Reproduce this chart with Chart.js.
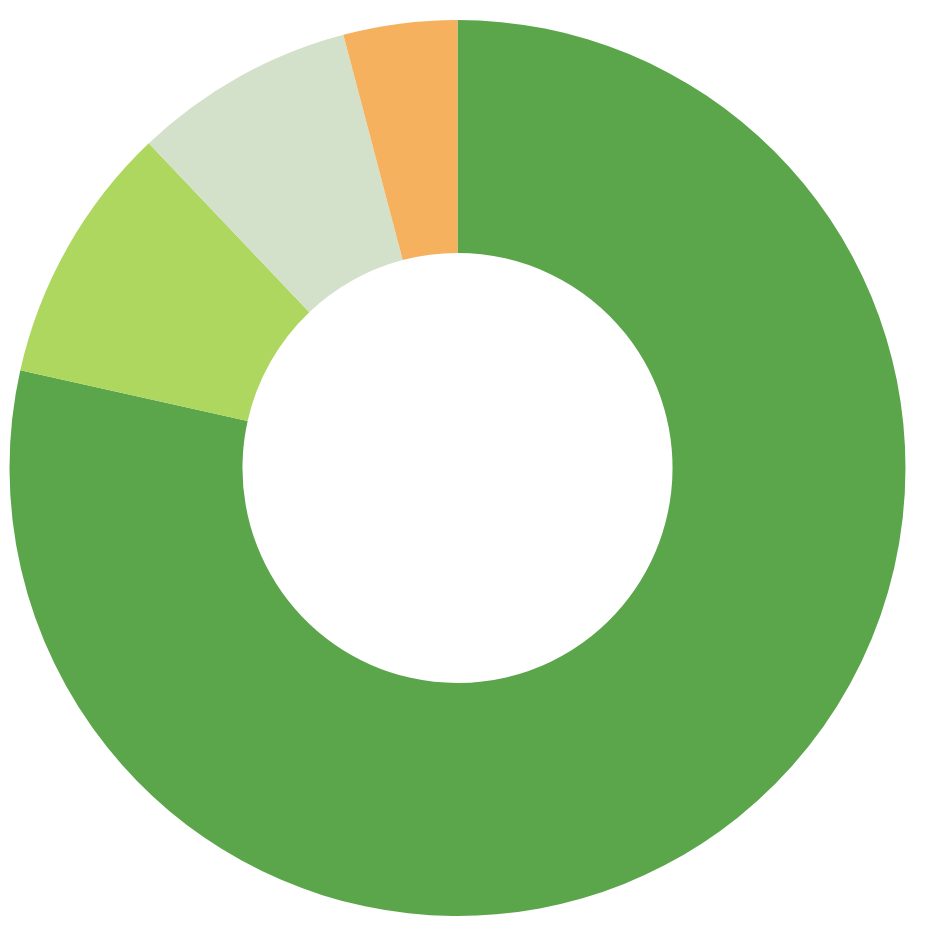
<!DOCTYPE html>
<html>
<head>
<meta charset="utf-8">
<script src="https://cdn.jsdelivr.net/npm/chart.js@4"></script>
<style>
  html, body { margin: 0; padding: 0; background: #fff; }
  #wrap { width: 926px; height: 942px; }
</style>
</head>
<body>
<div id="wrap"><canvas id="chart1"></canvas></div>
<script>
// Slice data, clockwise from 12 o'clock
const labels = ['A', 'B', 'C', 'D'];
const values = [78.5, 9.4, 8.0, 4.1];
const colors = ['#5ba64a', '#aed75f', '#d3e1ca', '#f6b15f'];

document.addEventListener('DOMContentLoaded', function() {
    const ctx = document.getElementById('chart1').getContext('2d');
    new Chart(ctx, {
        type: 'doughnut',
        data: {
            labels: labels,
            datasets: [{
                data: values,
                backgroundColor: colors,
                borderWidth: 0
            }]
        },
        options: {
            responsive: true,
            maintainAspectRatio: false,
            animation: false,
            cutout: '48%',
            layout: { padding: { left: 9.5, right: 20.5, top: 20, bottom: 26 } },
            plugins: {
                legend: { display: false },
                tooltip: { enabled: false }
            }
        }
    });
});
</script>
</body>
</html>
